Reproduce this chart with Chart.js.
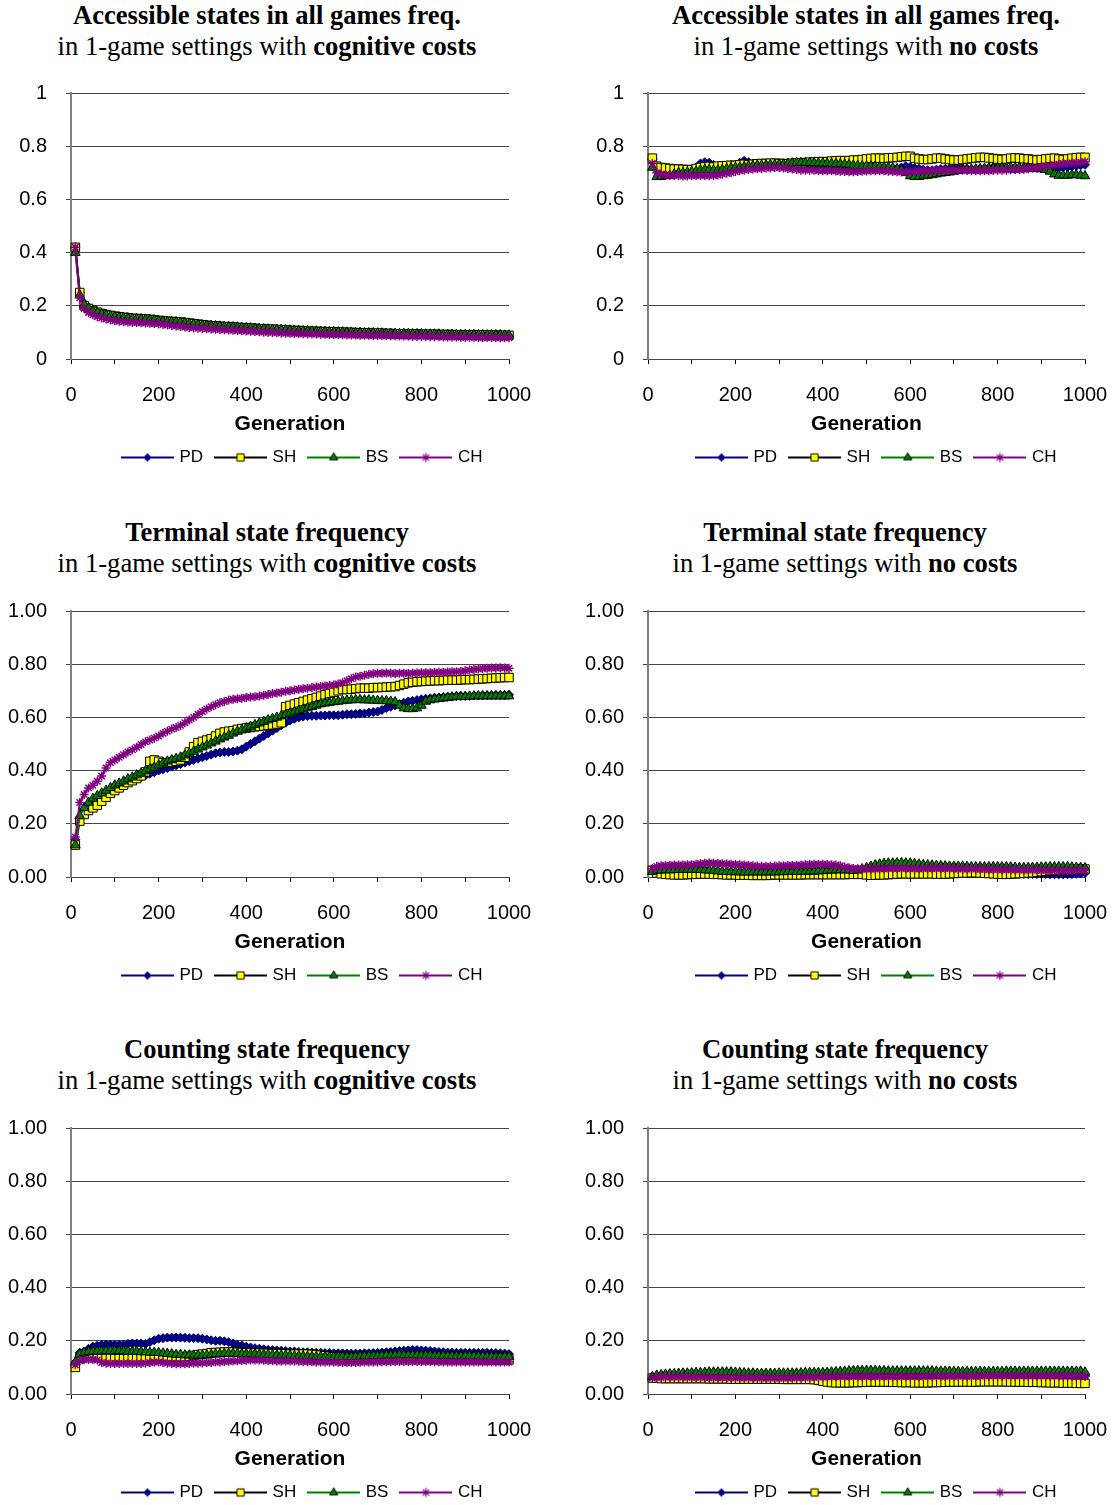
<!DOCTYPE html>
<html><head><meta charset="utf-8">
<script src="https://cdn.jsdelivr.net/npm/chart.js@4.4.1/dist/chart.umd.min.js"></script>
<style>
html,body{margin:0;padding:0;background:#fff;overflow:hidden;width:1119px;height:1505px;position:relative}
.title{position:absolute;width:600px;text-align:center;font-family:"Liberation Serif","Times New Roman",serif;font-size:26.6px;line-height:31px;color:#000;white-space:nowrap}
.title b{font-weight:bold}
canvas{position:absolute}
</style></head><body>
<div class="title" style="left:-33px;top:0px"><b>Accessible states in all games freq.</b><br>in 1-game settings with <b>cognitive costs</b></div>
<div class="title" style="left:566px;top:0px"><b>Accessible states in all games freq.</b><br>in 1-game settings with <b>no costs</b></div>
<div class="title" style="left:-33px;top:517px"><b>Terminal state frequency</b><br>in 1-game settings with <b>cognitive costs</b></div>
<div class="title" style="left:545px;top:517px"><b>Terminal state frequency</b><br>in 1-game settings with <b>no costs</b></div>
<div class="title" style="left:-33px;top:1034px"><b>Counting state frequency</b><br>in 1-game settings with <b>cognitive costs</b></div>
<div class="title" style="left:545px;top:1034px"><b>Counting state frequency</b><br>in 1-game settings with <b>no costs</b></div>

<canvas id="c1" width="560" height="406" style="left:0px;top:70px"></canvas>
<canvas id="c2" width="542" height="406" style="left:577px;top:70px"></canvas>
<canvas id="c3" width="560" height="406" style="left:0px;top:588px"></canvas>
<canvas id="c4" width="542" height="406" style="left:577px;top:588px"></canvas>
<canvas id="c5" width="560" height="406" style="left:0px;top:1105px"></canvas>
<canvas id="c6" width="542" height="406" style="left:577px;top:1105px"></canvas>

<script>
// ---------- categories / tick labels ----------
const seriesNames = ['PD', 'SH', 'BS', 'CH'];
const generations = [
  10,20,30,40,50,60,70,80,90,100,
  110,120,130,140,150,160,170,180,190,200,
  210,220,230,240,250,260,270,280,290,300,
  310,320,330,340,350,360,370,380,390,400,
  410,420,430,440,450,460,470,480,490,500,
  510,520,530,540,550,560,570,580,590,600,
  610,620,630,640,650,660,670,680,690,700,
  710,720,730,740,750,760,770,780,790,800,
  810,820,830,840,850,860,870,880,890,900,
  910,920,930,940,950,960,970,980,990,1000];
const xTickLabels = ['0','','200','','400','','600','','800','','1000'];
const yTickLabelsTop = ['0','0.2','0.4','0.6','0.8','1'];
const yTickLabelsTwoDec = ['0.00','0.20','0.40','0.60','0.80','1.00'];
const xAxisTitle = 'Generation';

// ---------- chart 1: accessible states, cognitive costs ----------
const pd1 = [.42,.25,.21,.195,.185,.178,.172,.168,.165,.162,
.160,.158,.156,.154,.153,.152,.151,.150,.148,.146,
.144,.142,.141,.140,.138,.136,.134,.132,.130,.128,
.127,.126,.125,.124,.122,.121,.120,.119,.118,.117,
.116,.116,.115,.114,.113,.112,.112,.111,.110,.108,
.107,.106,.106,.105,.105,.104,.104,.103,.103,.102,
.102,.101,.101,.100,.100,.099,.099,.098,.098,.097,
.097,.096,.096,.096,.095,.095,.095,.094,.094,.094,
.094,.093,.093,.093,.093,.092,.092,.092,.092,.092,
.091,.091,.091,.091,.091,.090,.090,.090,.090,.090];
const sh1 = [.42,.25,.20,.19,.182,.176,.171,.167,.164,.161,
.159,.157,.155,.153,.152,.151,.150,.149,.147,.145,
.143,.142,.141,.140,.139,.137,.135,.133,.131,.129,
.127,.125,.124,.123,.122,.121,.120,.119,.118,.117,
.116,.115,.114,.113,.112,.112,.111,.110,.109,.108,
.107,.107,.106,.105,.104,.104,.103,.103,.102,.102,
.101,.101,.100,.100,.099,.099,.098,.098,.097,.097,
.097,.096,.096,.095,.095,.095,.094,.094,.094,.093,
.093,.093,.093,.092,.092,.092,.092,.091,.091,.091,
.091,.091,.090,.090,.090,.090,.090,.089,.089,.089];
const bs1 = [.40,.24,.205,.19,.18,.174,.169,.165,.162,.159,
.157,.155,.154,.152,.151,.150,.149,.148,.146,.144,
.142,.141,.140,.139,.137,.135,.133,.131,.129,.127,
.126,.125,.124,.123,.122,.121,.120,.119,.118,.117,
.116,.115,.114,.113,.112,.111,.110,.110,.109,.108,
.107,.106,.105,.105,.104,.104,.103,.103,.102,.102,
.101,.101,.100,.100,.099,.099,.098,.098,.098,.097,
.097,.096,.096,.096,.095,.095,.095,.094,.094,.094,
.093,.093,.093,.093,.092,.092,.092,.092,.091,.091,
.091,.091,.091,.090,.090,.090,.090,.090,.089,.089];
const ch1 = [.42,.23,.19,.175,.166,.159,.154,.150,.147,.144,
.142,.140,.139,.138,.137,.136,.135,.134,.133,.132,
.130,.128,.126,.124,.122,.120,.118,.117,.116,.115,
.114,.113,.112,.111,.110,.109,.108,.107,.106,.105,
.104,.103,.102,.101,.100,.100,.099,.098,.097,.097,
.096,.096,.095,.095,.094,.094,.093,.093,.092,.092,
.091,.091,.090,.090,.090,.089,.089,.089,.088,.088,
.088,.087,.087,.087,.086,.086,.086,.085,.085,.085,
.085,.084,.084,.084,.083,.083,.083,.083,.082,.082,
.082,.082,.081,.081,.081,.081,.080,.080,.080,.080];

// ---------- chart 2: accessible states, no costs ----------
const pd2 = [.75,.72,.715,.713,.712,.71,.71,.708,.706,.705,
.72,.735,.74,.738,.73,.725,.725,.728,.73,.73,
.738,.745,.74,.735,.733,.732,.734,.735,.735,.734,
.733,.732,.73,.728,.728,.73,.73,.73,.728,.726,
.725,.724,.722,.72,.72,.722,.72,.718,.718,.72,
.72,.718,.716,.715,.714,.715,.716,.72,.725,.722,
.718,.715,.712,.71,.71,.712,.714,.715,.716,.718,
.718,.716,.715,.714,.714,.715,.716,.718,.72,.722,
.72,.718,.716,.715,.716,.718,.72,.72,.718,.716,
.715,.714,.716,.718,.72,.722,.724,.726,.728,.73];
const sh2 = [.755,.725,.72,.718,.716,.714,.714,.713,.712,.712,
.716,.72,.722,.724,.722,.725,.726,.727,.728,.728,
.73,.732,.73,.732,.734,.735,.735,.736,.736,.735,
.735,.734,.736,.737,.738,.738,.74,.74,.742,.742,
.742,.744,.745,.746,.745,.746,.748,.748,.75,.752,
.754,.755,.755,.754,.756,.757,.758,.76,.762,.762,
.755,.752,.75,.75,.752,.755,.755,.752,.75,.748,
.748,.75,.752,.754,.756,.758,.758,.756,.754,.752,
.75,.752,.755,.756,.755,.753,.752,.75,.748,.75,
.752,.754,.755,.752,.75,.752,.755,.757,.758,.758];
const bs2 = [.72,.685,.685,.688,.69,.695,.70,.70,.702,.705,
.705,.71,.712,.712,.71,.71,.712,.715,.718,.72,
.72,.722,.725,.726,.728,.728,.728,.73,.73,.732,
.732,.734,.736,.738,.738,.738,.738,.737,.736,.736,
.735,.735,.734,.733,.732,.73,.728,.727,.726,.725,
.725,.724,.722,.72,.72,.718,.715,.71,.70,.688,
.685,.685,.688,.69,.692,.695,.698,.70,.702,.705,
.708,.71,.712,.713,.714,.715,.716,.716,.716,.717,
.718,.718,.72,.72,.72,.718,.718,.716,.716,.714,
.712,.705,.695,.69,.69,.69,.692,.692,.69,.688];
const ch2 = [.735,.70,.695,.692,.69,.69,.69,.688,.688,.69,
.69,.69,.69,.69,.69,.692,.695,.698,.70,.705,
.708,.71,.712,.714,.715,.716,.718,.718,.72,.72,
.718,.716,.714,.712,.71,.71,.71,.71,.708,.708,
.708,.708,.707,.706,.705,.704,.704,.705,.706,.707,
.708,.708,.708,.708,.706,.705,.704,.703,.703,.704,
.705,.706,.707,.708,.708,.709,.71,.71,.71,.71,
.71,.71,.709,.708,.708,.708,.708,.708,.709,.71,
.71,.71,.711,.712,.712,.713,.715,.717,.72,.722,
.725,.728,.73,.732,.735,.736,.737,.738,.74,.742];

// ---------- chart 3: terminal state, cognitive costs ----------
const pd3 = [.14,.22,.25,.27,.285,.30,.31,.32,.33,.338,
.345,.352,.358,.364,.37,.376,.382,.388,.394,.40,
.405,.41,.415,.42,.425,.43,.435,.44,.445,.45,
.455,.46,.465,.468,.47,.47,.472,.475,.48,.49,
.50,.51,.52,.53,.54,.55,.56,.57,.58,.588,
.595,.60,.603,.605,.606,.606,.607,.607,.608,.608,
.608,.61,.612,.612,.613,.615,.615,.618,.62,.622,
.628,.635,.64,.645,.65,.655,.66,.662,.665,.668,
.67,.672,.674,.675,.676,.678,.678,.68,.68,.68,
.681,.682,.682,.683,.683,.683,.684,.684,.684,.685];
const sh3 = [.12,.21,.235,.25,.26,.27,.285,.30,.315,.325,
.335,.345,.355,.362,.37,.38,.395,.435,.44,.435,
.43,.43,.432,.435,.44,.45,.47,.49,.505,.51,
.515,.52,.53,.54,.545,.548,.55,.555,.558,.56,
.562,.565,.566,.568,.57,.572,.575,.58,.64,.645,
.65,.655,.66,.665,.67,.675,.68,.685,.69,.695,
.70,.705,.705,.706,.708,.71,.71,.71,.712,.712,
.713,.714,.715,.716,.72,.725,.73,.732,.734,.735,
.736,.737,.738,.738,.739,.74,.74,.74,.741,.742,
.742,.743,.744,.745,.746,.747,.748,.749,.75,.75];
const bs3 = [.12,.23,.26,.28,.295,.305,.315,.325,.335,.345,
.352,.36,.368,.375,.383,.39,.398,.405,.412,.42,
.428,.435,.44,.445,.45,.458,.465,.472,.48,.488,
.495,.503,.51,.518,.525,.532,.54,.547,.553,.56,
.566,.572,.578,.584,.59,.595,.60,.605,.61,.615,
.62,.625,.63,.635,.64,.645,.65,.653,.656,.658,
.66,.662,.664,.665,.666,.666,.665,.665,.664,.663,
.662,.662,.66,.658,.645,.635,.632,.632,.635,.645,
.66,.665,.668,.67,.672,.674,.676,.678,.678,.678,
.679,.68,.68,.68,.68,.68,.68,.68,.68,.68];
const ch3 = [.15,.28,.31,.335,.345,.36,.38,.41,.43,.44,
.45,.46,.47,.478,.488,.498,.508,.515,.522,.53,
.54,.548,.556,.562,.57,.58,.59,.60,.612,.622,
.632,.64,.648,.655,.66,.665,.668,.67,.672,.675,
.677,.678,.68,.683,.686,.69,.692,.695,.698,.70,
.703,.706,.708,.71,.712,.714,.716,.718,.72,.722,
.726,.73,.738,.745,.752,.755,.758,.762,.764,.766,
.766,.767,.766,.765,.766,.766,.765,.766,.767,.768,
.768,.768,.769,.77,.77,.771,.772,.772,.773,.775,
.778,.78,.782,.784,.785,.786,.786,.787,.786,.785];

// ---------- chart 4: terminal state, no costs ----------
const pd4 = [.03,.02,.02,.018,.018,.016,.016,.015,.015,.015,
.016,.016,.017,.017,.018,.018,.018,.017,.017,.016,
.016,.016,.015,.015,.016,.016,.017,.017,.018,.018,
.018,.018,.019,.019,.02,.02,.02,.02,.02,.021,
.021,.02,.02,.019,.019,.018,.018,.018,.017,.017,
.017,.018,.018,.019,.02,.02,.02,.02,.021,.021,
.02,.02,.02,.019,.019,.018,.018,.018,.017,.017,
.016,.016,.016,.015,.015,.015,.014,.014,.014,.013,
.013,.013,.012,.012,.012,.012,.011,.011,.011,.011,
.011,.01,.01,.01,.01,.01,.011,.012,.013,.015];
const sh4 = [.025,.015,.012,.01,.009,.008,.008,.008,.009,.01,
.01,.011,.011,.011,.01,.01,.009,.008,.008,.008,
.007,.007,.007,.006,.006,.006,.006,.007,.008,.008,
.008,.008,.008,.008,.008,.009,.009,.009,.009,.009,
.009,.009,.009,.009,.009,.01,.01,.01,.01,.008,
.007,.007,.008,.008,.009,.01,.011,.012,.012,.012,
.012,.012,.012,.012,.012,.011,.011,.011,.012,.013,
.014,.015,.015,.016,.016,.015,.014,.013,.012,.011,
.01,.01,.011,.012,.013,.014,.015,.016,.018,.02,
.022,.024,.025,.026,.027,.028,.028,.029,.03,.03];
const bs4 = [.02,.025,.025,.026,.026,.027,.027,.028,.028,.028,
.028,.027,.026,.025,.024,.022,.02,.02,.019,.019,
.018,.018,.018,.018,.018,.018,.018,.018,.018,.019,
.019,.02,.02,.02,.02,.02,.021,.021,.022,.023,
.024,.025,.026,.026,.026,.025,.024,.025,.03,.035,
.04,.045,.048,.05,.052,.052,.053,.053,.052,.052,
.05,.048,.046,.045,.044,.043,.042,.041,.04,.04,
.04,.04,.039,.038,.038,.038,.038,.038,.038,.038,
.038,.038,.037,.036,.035,.035,.035,.036,.036,.037,
.037,.038,.038,.038,.038,.038,.037,.036,.035,.034];
const ch4 = [.03,.04,.042,.043,.044,.045,.045,.045,.046,.046,
.048,.05,.052,.053,.052,.051,.05,.049,.048,.047,
.046,.045,.044,.042,.041,.04,.04,.04,.041,.042,
.042,.043,.043,.044,.045,.046,.047,.048,.048,.048,
.047,.046,.045,.042,.038,.035,.032,.031,.03,.03,
.03,.03,.031,.031,.032,.032,.032,.032,.032,.031,
.031,.031,.031,.032,.032,.032,.032,.032,.032,.031,
.03,.03,.03,.03,.03,.029,.029,.028,.028,.028,
.027,.027,.027,.027,.026,.026,.026,.026,.026,.025,
.025,.025,.025,.024,.024,.024,.024,.025,.025,.025];

// ---------- chart 5: counting state, cognitive costs ----------
const pd5 = [.12,.155,.16,.17,.178,.182,.185,.186,.186,.185,
.185,.186,.188,.19,.19,.19,.188,.195,.202,.208,
.21,.212,.212,.212,.212,.211,.21,.21,.21,.208,
.205,.202,.2,.2,.198,.195,.19,.185,.182,.178,
.175,.172,.17,.168,.166,.165,.164,.163,.162,.16,
.16,.158,.157,.157,.156,.155,.155,.154,.154,.153,
.153,.153,.152,.152,.152,.152,.153,.153,.154,.155,
.156,.157,.158,.16,.162,.163,.164,.165,.165,.164,
.163,.162,.16,.158,.157,.156,.156,.155,.155,.155,
.155,.155,.155,.155,.155,.154,.154,.153,.152,.15];
const sh5 = [.10,.135,.14,.142,.142,.14,.138,.135,.134,.133,
.133,.133,.133,.133,.133,.133,.133,.135,.138,.14,
.14,.14,.14,.14,.14,.14,.142,.145,.148,.15,
.152,.155,.156,.157,.158,.158,.158,.157,.156,.155,
.155,.154,.154,.153,.153,.152,.152,.152,.151,.15,
.15,.15,.15,.15,.149,.148,.146,.144,.142,.14,
.139,.138,.137,.136,.136,.136,.136,.136,.137,.138,
.138,.138,.138,.138,.137,.136,.135,.135,.134,.134,
.133,.133,.132,.132,.131,.131,.13,.13,.13,.13,
.13,.13,.13,.129,.129,.129,.128,.128,.128,.128];
const bs5 = [.12,.15,.155,.158,.16,.16,.16,.162,.162,.163,
.162,.162,.16,.16,.16,.158,.158,.156,.156,.155,
.153,.152,.15,.148,.148,.146,.146,.145,.145,.145,
.146,.148,.15,.15,.152,.152,.152,.152,.15,.15,
.15,.15,.149,.148,.148,.147,.146,.145,.145,.144,
.143,.142,.142,.141,.14,.14,.14,.14,.14,.14,
.14,.14,.14,.14,.14,.141,.142,.142,.143,.143,
.144,.145,.145,.146,.146,.146,.146,.146,.146,.145,
.145,.145,.144,.144,.144,.143,.143,.142,.142,.142,
.142,.142,.142,.141,.141,.14,.14,.14,.14,.14];
const ch5 = [.11,.125,.13,.13,.13,.128,.118,.116,.115,.115,
.115,.115,.115,.115,.115,.115,.116,.118,.12,.12,
.118,.116,.115,.114,.114,.114,.115,.116,.116,.117,
.118,.118,.12,.12,.122,.123,.124,.125,.126,.127,
.128,.128,.128,.127,.126,.125,.124,.124,.124,.124,
.124,.123,.122,.122,.121,.12,.12,.12,.12,.12,
.119,.118,.118,.118,.118,.119,.12,.12,.12,.12,
.121,.121,.122,.122,.122,.122,.122,.122,.122,.122,
.122,.122,.121,.121,.12,.12,.12,.12,.12,.12,
.12,.12,.12,.12,.12,.12,.12,.12,.12,.12];

// ---------- chart 6: counting state, no costs ----------
const pd6 = [.06,.065,.068,.07,.07,.07,.07,.069,.068,.068,
.067,.067,.067,.068,.068,.069,.07,.07,.07,.07,
.069,.068,.068,.067,.066,.066,.066,.066,.066,.066,
.066,.066,.066,.066,.066,.067,.067,.068,.068,.068,
.068,.068,.068,.068,.068,.068,.068,.068,.069,.07,
.07,.071,.071,.072,.072,.071,.071,.07,.07,.07,
.07,.07,.071,.071,.071,.07,.07,.07,.07,.07,
.07,.07,.069,.069,.07,.07,.071,.071,.07,.07,
.07,.07,.071,.071,.071,.07,.07,.07,.07,.07,
.07,.07,.07,.071,.071,.071,.07,.07,.07,.068];
const sh6 = [.06,.06,.058,.058,.058,.058,.058,.058,.058,.058,
.058,.058,.058,.057,.057,.057,.057,.057,.056,.056,
.056,.056,.056,.056,.056,.056,.056,.056,.056,.056,
.055,.055,.055,.055,.055,.055,.055,.054,.052,.048,
.045,.043,.042,.042,.042,.042,.043,.043,.044,.044,
.045,.045,.045,.045,.045,.044,.044,.043,.043,.043,
.042,.042,.042,.042,.043,.043,.044,.044,.045,.045,
.045,.045,.045,.045,.045,.046,.046,.046,.046,.046,
.046,.046,.045,.045,.045,.045,.044,.044,.044,.043,
.043,.042,.042,.042,.041,.041,.041,.04,.04,.04];
const bs6 = [.065,.07,.072,.074,.075,.076,.077,.078,.078,.079,
.08,.08,.081,.082,.082,.082,.082,.082,.082,.081,
.08,.079,.078,.078,.077,.077,.077,.077,.077,.078,
.078,.078,.078,.078,.079,.08,.08,.08,.08,.08,
.081,.082,.083,.084,.085,.086,.087,.088,.088,.088,
.088,.088,.087,.087,.086,.086,.086,.086,.086,.086,
.086,.086,.086,.086,.086,.085,.085,.085,.085,.084,
.084,.084,.084,.084,.084,.084,.084,.084,.084,.084,
.084,.085,.085,.085,.085,.085,.085,.085,.085,.085,
.085,.085,.085,.085,.085,.085,.085,.085,.085,.082];
const ch6 = [.06,.063,.063,.064,.064,.064,.064,.064,.063,.063,
.063,.063,.062,.062,.062,.062,.062,.062,.062,.061,
.061,.061,.061,.061,.06,.06,.06,.06,.06,.06,
.06,.06,.061,.061,.062,.062,.063,.063,.064,.064,
.065,.065,.066,.066,.066,.066,.066,.066,.066,.066,
.066,.066,.066,.066,.066,.066,.066,.066,.066,.066,
.066,.066,.066,.067,.067,.067,.067,.067,.067,.067,
.067,.067,.067,.067,.067,.067,.068,.068,.068,.068,
.068,.068,.068,.068,.068,.068,.068,.068,.068,.068,
.068,.068,.068,.068,.068,.068,.068,.068,.068,.066];

// ---------- styling ----------
Chart.defaults.font.family = "'Liberation Sans', Arial, sans-serif";
Chart.defaults.color = '#000';

const seriesStyles = [
  {line:'#000080', pointStyle:'rectRot', radius:4.5, fill:'#000080', border:'#000080', bw:1},
  {line:'#000000', pointStyle:'rect', radius:6, fill:'#FFFF00', border:'#000000', bw:1},
  {line:'#008000', pointStyle:'triangle', radius:5.5, fill:'#008000', border:'#000000', bw:1},
  {line:'#800080', pointStyle:'star', radius:4.5, fill:'#800080', border:'#800080', bw:1.5}
];

function legendIcon(st){
  const c = document.createElement('canvas');
  c.width = 53; c.height = 14;
  const g = c.getContext('2d');
  g.strokeStyle = st.line; g.lineWidth = 2;
  g.beginPath(); g.moveTo(0, 7); g.lineTo(53, 7); g.stroke();
  g.fillStyle = st.fill; g.strokeStyle = st.border; g.lineWidth = st.pointStyle === 'star' ? 1.2 : st.bw;
  const r = st.pointStyle === 'star' ? 4.5 : st.radius * 0.85;
  Chart.helpers.drawPoint(g, {pointStyle: st.pointStyle, radius: r, rotation: 0, borderWidth: g.lineWidth}, 26.5, 7);
  return c;
}
const legendIcons = seriesStyles.map(legendIcon);

const legendPos = {
  id: 'legendPos',
  afterLayout(chart, args, opts) {
    const lg = chart.legend;
    if (!lg) return;
    const w = lg.right - lg.left;
    lg.left = opts.x;
    lg.right = opts.x + w;
  }
};

function makeChart(id, series, yLabels, legendX) {
  const canvas = document.getElementById(id);
  const datasets = series.map((vals, i) => {
    const st = seriesStyles[i];
    return {
      label: seriesNames[i],
      data: generations.map((g, k) => ({x: g, y: vals[k]})),
      borderColor: st.line,
      backgroundColor: st.fill,
      borderWidth: 2,
      pointStyle: st.pointStyle,
      pointRadius: st.radius,
      pointBackgroundColor: st.fill,
      pointBorderColor: st.border,
      pointBorderWidth: st.bw,
      tension: 0,
      clip: false,
      order: 4 - i
    };
  });
  return new Chart(canvas, {
    type: 'line',
    data: {datasets},
    plugins: [legendPos],
    options: {
      responsive: false,
      animation: false,
      devicePixelRatio: 1,
      layout: {padding: {left: 0, right: canvas.width - 508 - (canvas.width === 560 ? 1 : 0), top: 23, bottom: 0}},
      plugins: {
        tooltip: {enabled: false},
        legendPos: {x: legendX},
        legend: {
          position: 'bottom',
          align: 'start',
          labels: {
            font: {size: 17},
            color: '#000',
            padding: 14,
            usePointStyle: true,
            pointStyleWidth: 47,
            generateLabels: () => seriesNames.map((n, i) => ({
              text: n, pointStyle: legendIcons[i], fillStyle: seriesStyles[i].fill,
              strokeStyle: seriesStyles[i].line, lineWidth: 0, hidden: false, datasetIndex: i
            }))
          }
        }
      },
      scales: {
        x: {
          type: 'linear', min: 0, max: 1000,
          afterFit: s => { s.height = 76; s.paddingLeft = 0; s.paddingRight = 0; },
          ticks: {stepSize: 100, autoSkip: false, maxRotation: 0, padding: 19, font: {size: 20}, color: '#000',
                  callback: (v, i) => xTickLabels[i]},
          grid: {drawOnChartArea: false, drawTicks: true, tickLength: 5, color: '#000'},
          border: {color: '#444', width: 1},
          title: {display: true, text: xAxisTitle, font: {size: 21, weight: 'bold', lineHeight: 1}, padding: {top: 0, bottom: 0}, color: '#000'}
        },
        y: {
          min: 0, max: 1,
          afterFit: s => { s.width = 71; s.paddingTop = 0; s.paddingBottom = 0; },
          ticks: {stepSize: 0.2, padding: 19, font: {size: 20}, color: '#000',
                  callback: (v, i) => yLabels[i]},
          grid: {color: '#444', lineWidth: 1, tickLength: 5, drawTicks: true},
          border: {color: '#808080', width: 2}
        }
      }
    }
  });
}

makeChart('c1', [pd1, sh1, bs1, ch1], yTickLabelsTop, 110);
makeChart('c2', [pd2, sh2, bs2, ch2], yTickLabelsTop, 107);
makeChart('c3', [pd3, sh3, bs3, ch3], yTickLabelsTwoDec, 110);
makeChart('c4', [pd4, sh4, bs4, ch4], yTickLabelsTwoDec, 107);
makeChart('c5', [pd5, sh5, bs5, ch5], yTickLabelsTwoDec, 110);
makeChart('c6', [pd6, sh6, bs6, ch6], yTickLabelsTwoDec, 107);
</script>
</body></html>
